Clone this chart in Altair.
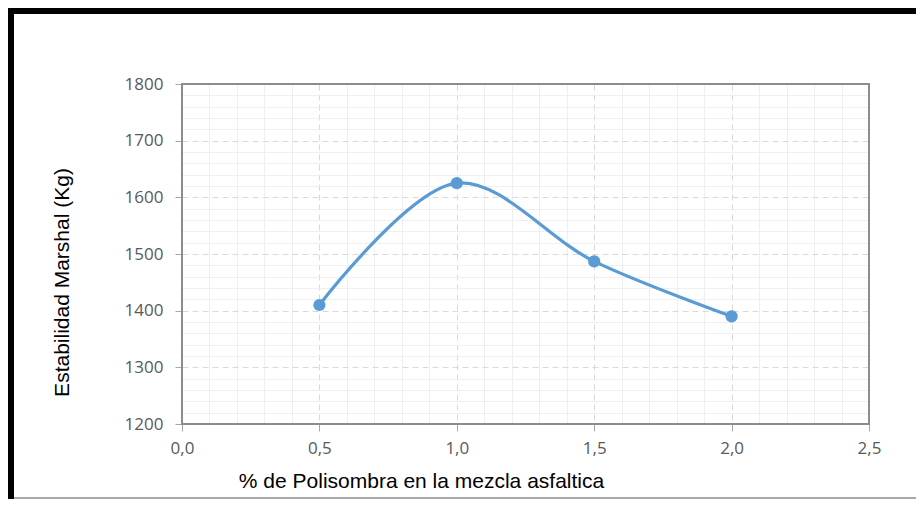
import altair as alt
import pandas as pd

# data
pct = [0.5, 1.0, 1.5, 2.0]
estabilidad = [1410, 1625, 1487, 1390]

x_ticks = [0.0, 0.5, 1.0, 1.5, 2.0, 2.5]
y_ticks = [1200, 1300, 1400, 1500, 1600, 1700, 1800]
x_minor = [0.1, 0.2, 0.3, 0.4, 0.6, 0.7, 0.8, 0.9, 1.1, 1.2, 1.3, 1.4,
           1.6, 1.7, 1.8, 1.9, 2.1, 2.2, 2.3, 2.4]
y_minor = [v for v in range(1220, 1800, 20) if v % 100 != 0]

x_title = "% de Polisombra en la mezcla asfaltica"
y_title = "Estabilidad Marshal (Kg)"

df = pd.DataFrame({"pct": pct, "est": estabilidad})

PW, PH = 687, 340
PAD = {"left": 174, "top": 76, "right": 47, "bottom": 75}

xs = alt.Scale(domain=[0, 2.5], nice=False, zero=False)
ys = alt.Scale(domain=[1200, 1800], nice=False, zero=False)

minor = alt.Chart(df).mark_point(opacity=0).encode(
    x=alt.X("pct:Q", scale=xs, axis=alt.Axis(
        orient="top", values=x_minor, grid=True, gridColor="#EFEFEF",
        gridWidth=1, labels=False, ticks=False, domain=False, title=None)),
    y=alt.Y("est:Q", scale=ys, axis=alt.Axis(
        orient="right", values=y_minor, grid=True, gridColor="#EFEFEF",
        gridWidth=1, labels=False, ticks=False, domain=False, title=None)),
)

label_font = "Open Sans"
title_font = "Liberation Sans"

main = alt.Chart(df).mark_line(
    interpolate="catmull-rom", color="#5B9BD5", strokeWidth=3.2,
    point=alt.OverlayMarkDef(filled=True, size=150, color="#5B9BD5", opacity=1),
).encode(
    x=alt.X("pct:Q", scale=xs, axis=alt.Axis(
        orient="bottom", values=x_ticks, grid=True, gridColor="#D9D9D9",
        gridDash=[6, 4], gridWidth=1, domain=False,
        ticks=True, tickColor="#A6A6A6", tickSize=7, tickWidth=1,
        labelExpr="replace(format(datum.value, '.1f'), '.', ',')",
        labelFlush=False,
        labelFont=label_font, labelFontSize=17, labelColor="#595959",
        labelPadding=9,
        title=x_title, titleFont=title_font, titleFontSize=21,
        titleFontWeight="normal", titleColor="#000000",
        titleX=239, titleY=57, titleAlign="center", titleBaseline="middle")),
    y=alt.Y("est:Q", scale=ys, axis=alt.Axis(
        orient="left", values=y_ticks, grid=True, gridColor="#D9D9D9",
        gridDash=[6, 4], gridWidth=1, domain=False,
        ticks=True, tickColor="#A6A6A6", tickSize=7, tickWidth=1,
        labelFlush=False,
        format="d", labelFont=label_font, labelFontSize=17,
        labelColor="#595959", labelPadding=12,
        title=y_title, titleFont=title_font, titleFontSize=21,
        titleFontWeight="normal", titleColor="#000000",
        titleX=-120, titleY=198, titleAngle=-90, titleAlign="center",
        titleBaseline="middle")),
)

one = alt.Data(values=[{"k": 1}])
border = alt.Chart(one).mark_rect(
    fillOpacity=0, stroke="#8C8C8C", strokeWidth=2
).encode(x=alt.value(0), x2=alt.value(PW), y=alt.value(0), y2=alt.value(PH))
top_bar = alt.Chart(one).mark_rect(color="#000000").encode(
    x=alt.value(-PAD["left"]), x2=alt.value(PW + PAD["right"]),
    y=alt.value(-PAD["top"]), y2=alt.value(-PAD["top"] + 6))
left_bar = alt.Chart(one).mark_rect(color="#000000").encode(
    x=alt.value(-PAD["left"]), x2=alt.value(-PAD["left"] + 6),
    y=alt.value(-PAD["top"]), y2=alt.value(PH + PAD["bottom"]))
bottom_line = alt.Chart(one).mark_rule(color="#8C8C8C", strokeWidth=1.5).encode(
    x=alt.value(-PAD["left"] + 6), x2=alt.value(PW + PAD["right"]),
    y=alt.value(PH + PAD["bottom"] - 1))

chart = alt.layer(minor, border, main, top_bar, left_bar, bottom_line).resolve_axis(
    x="independent", y="independent"
).properties(
    width=PW, height=PH,
    autosize=alt.AutoSizeParams(type="none"),
    padding=PAD,
    background="#FFFFFF",
).configure_view(stroke=None)

chart.save("out.html", embed_options={"renderer": "svg", "actions": False})
